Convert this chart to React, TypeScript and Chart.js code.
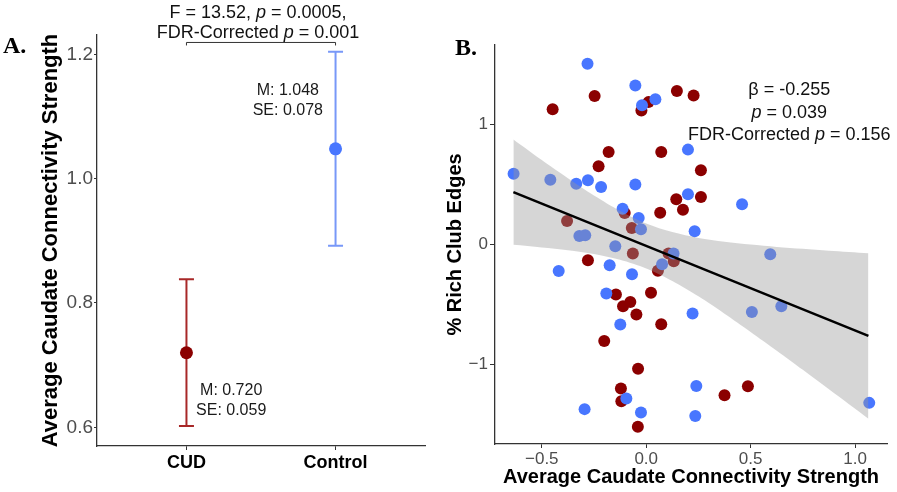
import React, { useEffect, useRef } from 'react';
import { Chart, registerables } from 'chart.js';

Chart.register(...registerables);

const FONT = '"Liberation Sans", Arial, Helvetica, sans-serif';
const SERIF = '"Liberation Serif", "Times New Roman", serif';

// ---------- Panel A data ----------
const groups = ['CUD', 'Control'];
const groupMeans = [0.72, 1.048];
const groupSEs = [0.059, 0.078];
const ciLower = [0.602, 0.892];
const ciUpper = [0.838, 1.204];
const yTicksA = [0.6, 0.8, 1.0, 1.2];
const labelPosX = [1.3, 1.68];
const labelPosY = [0.652, 1.135];
const bracketY = 1.219;
const statLinesA = [
  [{ t: 'F = 13.52, ' }, { t: 'p', i: true }, { t: ' = 0.0005,' }],
  [{ t: 'FDR-Corrected ' }, { t: 'p', i: true }, { t: ' = 0.001' }],
];

// ---------- Panel B data ----------
const cudX = [-0.247, -0.448, -0.023, 0.011, 0.147, 0.227, -0.18, 0.072, -0.228, 0.262, 0.144, 0.262, 0.176, 0.067, -0.103, -0.379, -0.069, -0.064, 0.107, 0.132, 0.056, -0.279, -0.145, 0.023, -0.076, -0.111, -0.047, 0.072, -0.201, -0.039, -0.121, -0.119, -0.04, 0.375, 0.487];
const cudY = [1.233, 1.123, 1.114, 1.183, 1.275, 1.239, 0.768, 0.768, 0.649, 0.616, 0.375, 0.394, 0.287, 0.263, 0.261, 0.194, 0.136, -0.076, -0.076, -0.14, -0.219, -0.132, -0.417, -0.402, -0.479, -0.514, -0.583, -0.664, -0.803, -1.034, -1.198, -1.304, -1.516, -1.254, -1.179];
const ctlX = [-0.281, -0.052, -0.02, 0.044, 0.2, -0.635, -0.459, -0.335, -0.279, -0.216, -0.052, 0.2, 0.459, -0.113, -0.036, -0.025, 0.232, -0.32, -0.292, -0.148, 0.594, 0.131, 0.076, -0.419, -0.175, -0.068, -0.191, 0.222, 0.506, 0.647, -0.124, 0.24, -0.095, -0.295, -0.025, 0.235, 1.068];
const ctlY = [1.502, 1.322, 1.156, 1.206, 0.788, 0.588, 0.538, 0.505, 0.533, 0.477, 0.497, 0.416, 0.333, 0.297, 0.219, 0.125, 0.109, 0.07, 0.076, -0.016, -0.082, -0.076, -0.165, -0.221, -0.174, -0.248, -0.409, -0.575, -0.562, -0.514, -0.666, -1.177, -1.281, -1.37, -1.398, -1.428, -1.318];
const bandX = [-0.636, -0.5, -0.375, -0.25, -0.125, 0, 0.125, 0.25, 0.375, 0.5, 0.625, 0.75, 0.875, 1.064];
const bandUpper = [0.872, 0.701, 0.55, 0.406, 0.278, 0.174, 0.102, 0.054, 0.022, -0.002, -0.021, -0.037, -0.052, -0.073];
const bandLower = [-0.004, -0.025, -0.048, -0.08, -0.128, -0.2, -0.304, -0.432, -0.576, -0.728, -0.884, -1.043, -1.204, -1.449];
const fitX = [-0.636, 1.064];
const fitY = [0.434, -0.761];
const xTicksB = [-0.5, 0, 0.5, 1.0];
const yTicksB = [-1, 0, 1];
const statPosB = { x: 0.685, y: 1.239 };
const statLinesB = [
  [{ t: 'β = -0.255' }],
  [{ t: 'p', i: true }, { t: ' = 0.039' }],
  [{ t: 'FDR-Corrected ' }, { t: 'p', i: true }, { t: ' = 0.156' }],
];

const RED = '#8B0000';
const BLUE = '#4876FF';
const barColors = ['#A82828', '#7898F8'];

type Seg = { t: string; i?: boolean };

function drawRich(ctx: CanvasRenderingContext2D, segs: Seg[], cx: number, baseline: number, size: number, color: string) {
  const f = (it?: boolean) => `${it ? 'italic ' : ''}${size}px ${FONT}`;
  let total = 0;
  const widths = segs.map((s) => {
    ctx.font = f(s.i);
    const w = ctx.measureText(s.t).width;
    total += w;
    return w;
  });
  let x = cx - total / 2;
  ctx.fillStyle = color;
  ctx.textBaseline = 'alphabetic';
  ctx.textAlign = 'left';
  segs.forEach((s, k) => {
    ctx.font = f(s.i);
    ctx.fillText(s.t, x, baseline);
    x += widths[k];
  });
}

const minus = (v: number, d: number) => (v < 0 ? '\u2212' : '') + Math.abs(v).toFixed(d);

export default function App() {
  const refA = useRef<HTMLCanvasElement>(null);
  const refB = useRef<HTMLCanvasElement>(null);

  useEffect(() => {
    const errorBars = {
      id: 'errorBars',
      beforeDatasetsDraw(chart: any) {
        const ctx = chart.ctx;
        const xs = chart.scales.x;
        const ys = chart.scales.y;
        ctx.save();
        groups.forEach((_, i) => {
          const x = xs.getPixelForValue(i + 1);
          const y1 = ys.getPixelForValue(ciLower[i]);
          const y2 = ys.getPixelForValue(ciUpper[i]);
          ctx.strokeStyle = barColors[i];
          ctx.lineWidth = 2;
          ctx.beginPath();
          ctx.moveTo(x, y1);
          ctx.lineTo(x, y2);
          ctx.moveTo(x - 7.5, y1);
          ctx.lineTo(x + 7.5, y1);
          ctx.moveTo(x - 7.5, y2);
          ctx.lineTo(x + 7.5, y2);
          ctx.stroke();
        });
        ctx.restore();
      },
      afterDraw(chart: any) {
        const ctx = chart.ctx;
        const xs = chart.scales.x;
        const ys = chart.scales.y;
        ctx.save();
        // stats labels
        groups.forEach((_, i) => {
          const cx = xs.getPixelForValue(labelPosX[i]);
          const by = ys.getPixelForValue(labelPosY[i]);
          drawRich(ctx, [{ t: `M: ${groupMeans[i].toFixed(3)}` }], cx, by, 16, '#1a1a1a');
          drawRich(ctx, [{ t: `SE: ${groupSEs[i].toFixed(3)}` }], cx, by + 20, 16, '#1a1a1a');
        });
        // bracket
        const x1 = xs.getPixelForValue(1);
        const x2 = xs.getPixelForValue(2);
        const yb = ys.getPixelForValue(bracketY);
        ctx.strokeStyle = '#333';
        ctx.lineWidth = 1;
        ctx.beginPath();
        ctx.moveTo(x1, yb + 3);
        ctx.lineTo(x1, yb);
        ctx.lineTo(x2, yb);
        ctx.lineTo(x2, yb + 3);
        ctx.stroke();
        const mid = (x1 + x2) / 2 - 3;
        drawRich(ctx, statLinesA[0], mid, yb - 24.5, 18, '#111');
        drawRich(ctx, statLinesA[1], mid, yb - 4, 18, '#111');
        // panel letter
        ctx.font = `bold 24px ${SERIF}`;
        ctx.fillStyle = '#000';
        ctx.textAlign = 'left';
        ctx.textBaseline = 'alphabetic';
        ctx.fillText('A.', 3, 53);
        ctx.restore();
      },
    };

    const chartA = new Chart(refA.current!, {
      type: 'scatter',
      data: {
        datasets: [
          {
            data: groupMeans.map((m, i) => ({ x: i + 1, y: m })),
            pointBackgroundColor: [RED, BLUE],
            pointBorderWidth: 0,
            pointRadius: 6.5,
          },
        ],
      },
      options: {
        animation: false,
        responsive: false,
        devicePixelRatio: 1,
        events: [],
        layout: { padding: { left: 38, top: 35, right: 15, bottom: 0 } },
        plugins: { legend: { display: false }, tooltip: { enabled: false } },
        scales: {
          x: {
            type: 'linear',
            min: 0.4,
            max: 2.6,
            afterBuildTicks: (s: any) => {
              s.ticks = groups.map((_, i) => ({ value: i + 1 }));
            },
            afterFit: (s: any) => {
              s.height = 46;
            },
            ticks: {
              callback: (v: any) => groups[Math.round(v) - 1] ?? '',
              font: { family: FONT, size: 18, weight: 'bold' },
              color: '#000',
              padding: 2,
              autoSkip: false,
              maxRotation: 0,
            },
            grid: { display: true, drawOnChartArea: false, drawTicks: true, tickLength: 4, color: '#333', lineWidth: 1 },
            border: { display: true, color: '#333', width: 1.3 },
          },
          y: {
            type: 'linear',
            min: 0.57,
            max: 1.231,
            afterBuildTicks: (s: any) => {
              s.ticks = yTicksA.map((v) => ({ value: v }));
            },
            afterFit: (s: any) => {
              s.width = 59;
            },
            ticks: {
              callback: (v: any) => Number(v).toFixed(1),
              font: { family: FONT, size: 19 },
              color: '#4d4d4d',
              padding: 1,
            },
            grid: { display: true, drawOnChartArea: false, drawTicks: true, tickLength: 3, color: '#333', lineWidth: 1 },
            border: { display: true, color: '#333', width: 1.3 },
            title: {
              display: true,
              text: 'Average Caudate Connectivity Strength',
              font: { family: FONT, size: 22, weight: 'bold' },
              color: '#000',
              padding: 0,
            },
          },
        },
      },
      plugins: [errorBars],
    } as any);

    const annoB = {
      id: 'annoB',
      afterDraw(chart: any) {
        const ctx = chart.ctx;
        const xs = chart.scales.x;
        const ys = chart.scales.y;
        ctx.save();
        const cx = xs.getPixelForValue(statPosB.x);
        const by = ys.getPixelForValue(statPosB.y);
        statLinesB.forEach((line, k) => drawRich(ctx, line, cx, by + k * 22.2, 18, '#111'));
        ctx.font = `bold 24px ${SERIF}`;
        ctx.fillStyle = '#000';
        ctx.textAlign = 'left';
        ctx.textBaseline = 'alphabetic';
        ctx.fillText('B.', 15, 55);
        ctx.restore();
      },
    };

    const chartB = new Chart(refB.current!, {
      type: 'scatter',
      data: {
        datasets: [
          {
            data: ctlX.map((x, i) => ({ x, y: ctlY[i] })),
            pointBackgroundColor: BLUE,
            pointBorderWidth: 0,
            pointRadius: 6,
            order: 2,
          },
          {
            data: cudX.map((x, i) => ({ x, y: cudY[i] })),
            pointBackgroundColor: RED,
            pointBorderWidth: 0,
            pointRadius: 6,
            order: 3,
          },
          {
            type: 'line',
            data: bandX.map((x, i) => ({ x, y: bandUpper[i] })),
            showLine: true,
            fill: '+1',
            backgroundColor: 'rgba(153,153,153,0.4)',
            borderColor: 'rgba(0,0,0,0)',
            borderWidth: 0,
            pointRadius: 0,
            tension: 0.3,
            order: 1,
          },
          {
            type: 'line',
            data: bandX.map((x, i) => ({ x, y: bandLower[i] })),
            showLine: true,
            fill: false,
            borderColor: 'rgba(0,0,0,0)',
            borderWidth: 0,
            pointRadius: 0,
            tension: 0.3,
            order: 1,
          },
          {
            type: 'line',
            data: fitX.map((x, i) => ({ x, y: fitY[i] })),
            showLine: true,
            fill: false,
            borderColor: '#000',
            borderWidth: 2.5,
            pointRadius: 0,
            order: 0,
          },
        ],
      },
      options: {
        animation: false,
        responsive: false,
        devicePixelRatio: 1,
        events: [],
        layout: { padding: { left: 3, top: 45, right: 10, bottom: 0 } },
        plugins: { legend: { display: false }, tooltip: { enabled: false } },
        scales: {
          x: {
            type: 'linear',
            min: -0.724,
            max: 1.153,
            afterBuildTicks: (s: any) => {
              s.ticks = xTicksB.map((v) => ({ value: v }));
            },
            afterFit: (s: any) => {
              s.height = 48;
            },
            ticks: {
              callback: (v: any) => minus(Number(v), 1),
              font: { family: FONT, size: 17 },
              color: '#4d4d4d',
              padding: 1,
              autoSkip: false,
              maxRotation: 0,
            },
            grid: { display: true, drawOnChartArea: false, drawTicks: true, tickLength: 4, color: '#333', lineWidth: 1 },
            border: { display: true, color: '#333', width: 1.3 },
            title: {
              display: true,
              text: 'Average Caudate Connectivity Strength',
              font: { family: FONT, size: 20, weight: 'bold' },
              color: '#000',
              padding: { top: 0, bottom: 3 },
            },
          },
          y: {
            type: 'linear',
            min: -1.66,
            max: 1.658,
            afterBuildTicks: (s: any) => {
              s.ticks = yTicksB.map((v) => ({ value: v }));
            },
            afterFit: (s: any) => {
              s.width = 52;
            },
            ticks: {
              callback: (v: any) => minus(Number(v), 0),
              font: { family: FONT, size: 17 },
              color: '#4d4d4d',
              padding: 2,
            },
            grid: { display: true, drawOnChartArea: false, drawTicks: true, tickLength: 5, color: '#333', lineWidth: 1 },
            border: { display: true, color: '#333', width: 1.3 },
            title: {
              display: true,
              text: '% Rich Club Edges',
              font: { family: FONT, size: 20, weight: 'bold' },
              color: '#000',
              padding: 0,
            },
          },
        },
      },
      plugins: [annoB],
    } as any);

    return () => {
      chartA.destroy();
      chartB.destroy();
    };
  }, []);

  return (
    <div style={{ position: 'absolute', left: 0, top: 0, width: 897, height: 492, background: '#fff', overflow: 'hidden' }}>
      <canvas ref={refA} width={440} height={492} style={{ position: 'absolute', left: 0, top: 0, display: 'block' }} />
      <canvas ref={refB} width={457} height={492} style={{ position: 'absolute', left: 440, top: 0, display: 'block' }} />
    </div>
  );
}
